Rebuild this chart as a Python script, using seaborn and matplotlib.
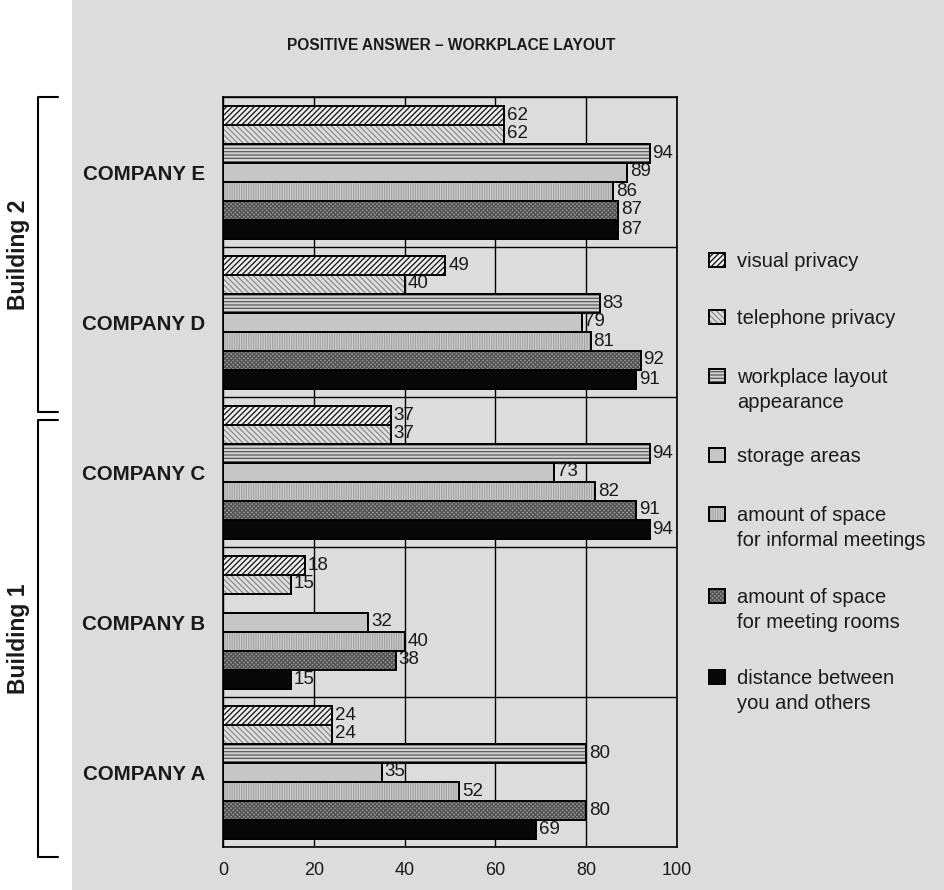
import numpy as np
import pandas as pd
import matplotlib.pyplot as plt
import seaborn as sns
from matplotlib.lines import Line2D
from matplotlib.patches import Rectangle

sns.set_style("white")
plt.rcParams["font.family"] = ["Liberation Sans", "DejaVu Sans"]
plt.rcParams["hatch.linewidth"] = 0.9

W, H = 945, 890
BG = "#dcdcdc"

companies = ["COMPANY E", "COMPANY D", "COMPANY C", "COMPANY B", "COMPANY A"]
aspects = ["visual privacy", "telephone privacy", "workplace layout appearance",
           "storage areas", "amount of space for informal meetings",
           "amount of space for meeting rooms", "distance between you and others"]
legend_labels = ["visual privacy", "telephone privacy", "workplace layout\nappearance",
                 "storage areas", "amount of space\nfor informal meetings",
                 "amount of space\nfor meeting rooms", "distance between\nyou and others"]

# values per aspect, order E, D, C, B, A
visual_privacy    = [62, 49, 37, 18, 24]
telephone_privacy = [62, 40, 37, 15, 24]
layout_appearance = [94, 83, 94, np.nan, 80]
storage_areas     = [89, 79, 73, 32, 35]
informal_meetings = [86, 81, 82, 40, 52]
meeting_rooms     = [87, 92, 91, 38, 80]
distance_others   = [87, 91, 94, 15, 69]

series = [visual_privacy, telephone_privacy, layout_appearance, storage_areas,
          informal_meetings, meeting_rooms, distance_others]

fills   = ["#ececec", "#dedede", "#d2d2d2", "#c6c6c6", "#d0d0d0", "#9a9a9a", "#080808"]
hatches = ["//////", "\\\\\\\\\\\\", "-----", "", "|||||||", "xxxxxxxx", ""]
hcolors = ["#111111", "#8a8a8a", "#5a5a5a", "#111111", "#a2a2a2", "#505050", "#111111"]

rows = []
for asp, vals in zip(aspects, series):
    for comp, v in zip(companies, vals):
        rows.append({"company": comp, "aspect": asp, "value": v})
df = pd.DataFrame(rows).dropna()

fig = plt.figure(figsize=(W / 100, H / 100), dpi=100)
fig.patch.set_facecolor("white")
fig.patches.append(Rectangle((72 / W, 0), 1 - 72 / W, 1, transform=fig.transFigure,
                             facecolor=BG, edgecolor="none", zorder=-10))

ax = fig.add_axes([223 / W, 43 / H, 454 / W, 750 / H])
ax.set_facecolor(BG)

sns.barplot(data=df, y="company", x="value", hue="aspect", order=companies,
            hue_order=aspects, orient="h", width=133 / 150, palette=fills,
            saturation=1, edgecolor="black", linewidth=1.4, errorbar=None,
            legend=False, ax=ax)

for cont, hatch, hc in zip(ax.containers, hatches, hcolors):
    for p in cont:
        p.set_hatch(hatch)
        p.set_edgecolor(hc)
        ax.add_patch(Rectangle(p.get_xy(), p.get_width(), p.get_height(), fill=False,
                               edgecolor="black", linewidth=1.4, zorder=p.get_zorder() + 0.1))
    ax.bar_label(cont, fmt="%g", padding=2, fontsize=13.5, color="#1a1a1a")

ax.set_xlim(0, 100)
ax.set_ylim(4.5, -0.5)
ax.set_xticks(range(0, 101, 20))
ax.set_yticks(np.arange(-0.5, 5, 1), minor=True)
ax.set_xlabel("")
ax.set_ylabel("")
ax.grid(axis="x", which="major", color="black", linewidth=1)
ax.grid(axis="y", which="minor", color="black", linewidth=1)
ax.set_axisbelow(True)
ax.tick_params(axis="y", which="major", length=0, pad=13, labelsize=14.8, labelcolor="#1a1a1a")
ax.tick_params(axis="y", which="minor", length=5, width=1, direction="out", color="black")
ax.tick_params(axis="x", which="major", length=6, width=1, direction="out", pad=5,
               labelsize=13, labelcolor="#1a1a1a", color="black")
for t in ax.get_yticklabels():
    t.set_fontweight("bold")
for s in ax.spines.values():
    s.set_color("black")
    s.set_linewidth(1.2)

fig.text(451 / W, 1 - 45 / H, "POSITIVE ANSWER – WORKPLACE LAYOUT", ha="center",
         va="center", fontsize=11.2, fontweight="bold", color="#1a1a1a")

# legend, drawn by hand so the swatch lines up with the first text line
leg_y = [260, 317, 376, 455, 514, 596, 677]
for lab, fc, hatch, hc, cy in zip(legend_labels, fills, hatches, hcolors, leg_y):
    fig.patches.append(Rectangle((709 / W, 1 - (cy + 7) / H), 16 / W, 14 / H,
                                 transform=fig.transFigure, facecolor=fc, hatch=hatch,
                                 edgecolor=hc, linewidth=0))
    fig.patches.append(Rectangle((709 / W, 1 - (cy + 7) / H), 16 / W, 14 / H,
                                 transform=fig.transFigure, fill=False,
                                 edgecolor="black", linewidth=1.4))
    for k, line in enumerate(lab.split("\n")):
        fig.text(737 / W, 1 - (cy + 7 + 25 * k) / H, line, ha="left", va="baseline",
                 fontsize=14.5, color="#1a1a1a")

# building brackets
for top, bot, name in [(97, 412, "Building 2"), (420, 857, "Building 1")]:
    xs = [58 / W, 38 / W, 38 / W, 58 / W]
    ys = [1 - top / H, 1 - top / H, 1 - bot / H, 1 - bot / H]
    fig.add_artist(Line2D(xs, ys, color="black", linewidth=1.5))
    fig.text(19 / W, 1 - (top + bot) / 2 / H, name, rotation=90, ha="center",
             va="center", fontsize=16.5, fontweight="bold", color="#1a1a1a")

fig.savefig("out.png", dpi=100, facecolor=fig.get_facecolor())
